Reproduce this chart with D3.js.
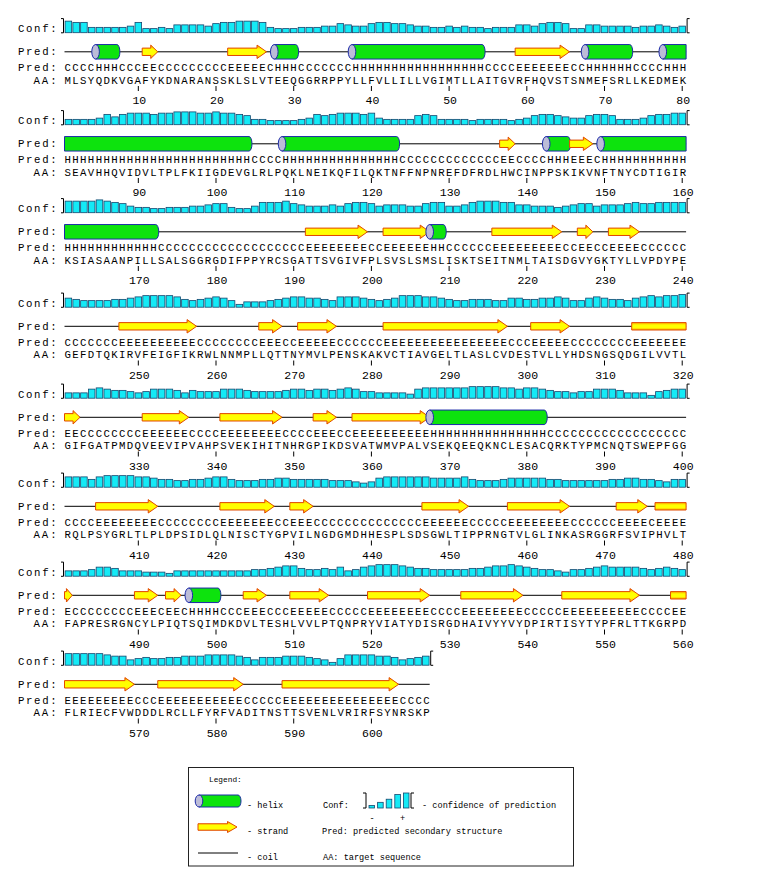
<!DOCTYPE html>
<html><head><meta charset="utf-8">
<script src="https://cdn.jsdelivr.net/npm/d3@7"></script>
<style>body{margin:0;background:#fff} svg{display:block}</style>
</head><body>
<svg id="c" width="775" height="895"></svg>
<script>
// ---------------- data ----------------
const aaBlocks = [
"MLSYQDKVGAFYKDNARANSSKLSLVTEEQGGRRPPYLLFVLLILLVGIMTLLAITGVRFHQVSTSNMEFSRLLKEDMEK",
"SEAVHHQVIDVLTPLFKIIGDEVGLRLPQKLNEIKQFILQKTNFFNPNREFDFRDLHWCINPPSKIKVNFTNYCDTIGIR",
"KSIASAANPILLSALSGGRGDIFPPYRCSGATTSVGIVFPLSVSLSMSLISKTSEITNMLTAISDGVYGKTYLLVPDYPE",
"GEFDTQKIRVFEIGFIKRWLNNMPLLQTTNYMVLPENSKAKVCTIAVGELTLASLCVDESTVLLYHDSNGSQDGILVVTL",
"GIFGATPMDQVEEVIPVAHPSVEKIHITNHRGPIKDSVATWMVPALVSEKQEEQKNCLESACQRKTYPMCNQTSWEPFGG",
"RQLPSYGRLTLPLDPSIDLQLNISCTYGPVILNGDGMDHHESPLSDSGWLTIPPRNGTVLGLINKASRGGRFSVIPHVLT",
"FAPRESRGNCYLPIQTSQIMDKDVLTESHLVVLPTQNPRYVIATYDISRGDHAIVYYVYDPIRTISYTYPFRLTTKGRPD",
"FLRIECFVWDDDLRCLLFYRFVADITNSTTSVENLVRIRFSYNRSKP"
];
// secondary structure as runs (type + length)
const predRuns = [
"C4 H3 C3 E2 C9 E5 C1 H3 C7 H17 C4 E7 C2 H6 C4 H3",
"H24 C4 H15 C13 E2 C4 H3 E3 C1 H11",
"H12 C19 E8 C2 E6 H2 C6 E9 C2 E2 C2 E4 C6",
"C7 E10 C8 E3 C2 E5 C6 E16 C3 E5 C8 E7",
"E2 C8 E6 C4 E8 C4 E3 C2 E10 H15 C18",
"C4 E8 C8 E7 C2 E3 C14 E6 C5 E8 C6 E4 C1 E4",
"E1 C8 E3 C1 E2 C1 H4 C3 E3 C3 E5 C5 E8 C4 E8 C5 E10 C4 E2",
"E9 C3 E11 C5 E15 C4"
];
// confidence digits 0-9 per residue
const confBlocks = [
"877 333334 7 2232 55554 6 778887 3 22233344 65446 77665 4433434 332333 5546776 22 554444 3445434",
"33334 75 78887889998898876 33222234 76788878 43333676 333323333234 6776 5446 7763 33467788",
"88889876 4332233344 566 3224 777865 44454 6776 4555446 77445 788877 55444345 6645 5567 667777",
"65 4444556 788887 545 676 413334 5677665 4 77765 456 8887765 4455544 6655 6676 44676 5546787889",
"3336 7655 43466 653 5444 666544 4456 65665 676 4433332 677777788887767 765443 446665 33314566",
"7775 78888776 554455 6775 44455665 5555444323 677777766667 5444 56666655 44444455 66554355",
"3334 665 3332221 33333333334 45677 5445463 467 8887655 44444 55677876 5443 2445 6766665 45654",
"88888766 3454455666 777765 35556665 4314 7777665 3456"
];
const tickEvery = 10;
const perLine = 80;

// ---------------- layout ----------------
const FONT = "'Liberation Mono','Courier New',monospace";
const FS = 10.7;
const CW = 7.77;
const svg = d3.select("#c");
svg.append("rect").attr("width",775).attr("height",895).attr("fill","#fff");

const defs = svg.append("defs");
const grad = defs.append("linearGradient").attr("id","strandGrad")
  .attr("x1",0).attr("y1",0).attr("x2",0).attr("y2",1);
[[0,"#ffa200"],[0.32,"#ffff00"],[0.68,"#ffff00"],[1,"#ffa200"]].forEach(([o,c])=>
  grad.append("stop").attr("offset",o).attr("stop-color",c));

const x = d3.scaleLinear().domain([0, perLine]).range([64.5, 64.5 + perLine*CW]);
const rowY = d3.scaleOrdinal().domain(d3.range(8)).range([28,120,208,302.5,393.5,482.5,571.5,660.5]);
const confH = d3.scaleLinear().domain([0,9]).range([1.6,12.8]);

const parseRuns = s => s.trim().split(/\s+/).map(t => ({type:t[0], len:+t.slice(1)}));
const runs = predRuns.map(parseRuns);
const predStrings = runs.map(r => r.map(d => d.type.repeat(d.len)).join(""));
const confVals = confBlocks.map(s => s.replace(/\s+/g,"").split("").map(Number));

const GY = 23.8;   // glyph centre offset
function drawHelix(g, xs, xe, cy, h, cap, round) {
  let p;
  if (round) {
    p = `M${xs},${cy-h/2}H${xe-2}A3,${h/2} 0 0 1 ${xe-2},${cy+h/2}H${xs}Z`;
  } else {
    p = `M${xs},${cy-h/2}H${xe}V${cy+h/2}H${xs}Z`;
  }
  g.append("path").attr("d",p).attr("fill","#0de30d").attr("stroke","#1c2aa8").attr("stroke-width",1);
  if (cap) g.append("ellipse").attr("cx",xs).attr("cy",cy).attr("rx",3.8).attr("ry",h/2)
    .attr("fill","#bcbcd8").attr("stroke","#1c2aa8").attr("stroke-width",1);
}
function drawStrand(g, xs, xe, cy, bh, hh, head) {
  const w = xe - xs;
  let p;
  if (head) {
    const hl = w <= 8.5 ? w*0.75 : Math.min(9.5, w*0.45);
    p = `M${xs},${cy-bh/2}H${xe-hl}V${cy-hh/2}L${xe},${cy}L${xe-hl},${cy+hh/2}V${cy+bh/2}H${xs}Z`;
  } else {
    p = `M${xs},${cy-bh/2}H${xe}V${cy+bh/2}H${xs}Z`;
  }
  g.append("path").attr("d",p).attr("fill","url(#strandGrad)").attr("stroke","#e24a00").attr("stroke-width",1);
}

aaBlocks.forEach((aa, i) => {
  const n = aa.length;
  const start = i*perLine;
  const g = svg.append("g").attr("transform",`translate(0,${rowY(i)})`);
  const lab = (t, y) => g.append("text").attr("x", x(0) - CW).attr("y", y).attr("text-anchor","end")
      .attr("font-family",FONT).attr("font-size",FS).attr("fill","#000")
      .attr("textLength", t.length*CW).attr("lengthAdjust","spacing").text(t);
  lab("Conf:", 4.0); lab("Pred:", GY + 3.2); lab("Pred:", 43.3); lab("AA:", 55.5);

  // confidence bars
  const conf = confVals[i];
  g.selectAll("rect.cb").data(conf).join("rect").attr("class","cb")
    .attr("x",(d,k)=>x(k)+0.6).attr("width",CW-1.2)
    .attr("y",d=>4.7-confH(d)).attr("height",d=>confH(d))
    .attr("fill","#14eaf6").attr("stroke","#14466e").attr("stroke-width",0.8);
  // brackets
  const bt=-9.4, bb=4.8, xl=x(0)-1, xr=x(n)+1;
  g.append("path").attr("d",`M${xl-2.5},${bt}H${xl}V${bb}H${xl-2.5}`).attr("fill","none").attr("stroke","#000").attr("stroke-width",1);
  g.append("path").attr("d",`M${xr+2.5},${bt}H${xr}V${bb}H${xr+2.5}`).attr("fill","none").attr("stroke","#000").attr("stroke-width",1);

  // coil line
  g.append("line").attr("x1",x(0)).attr("x2",x(n)).attr("y1",GY).attr("y2",GY)
    .attr("stroke","#000").attr("stroke-width",1);

  // segments
  let pos = 0;
  const prevLast = i>0 ? predStrings[i-1].slice(-1) : null;
  const nextFirst = i<aaBlocks.length-1 ? predStrings[i+1][0] : null;
  runs[i].forEach(r => {
    const s = pos, e = pos + r.len; pos = e;
    const contPrev = s===0 && r.type===prevLast;
    const contNext = e===n && r.type===nextFirst;
    if (r.type==="H") drawHelix(g, x(s), x(e), GY, 14.5, !contPrev, !contNext);
    else if (r.type==="E") drawStrand(g, x(s), x(e), GY, 7.4, 13.4, !contNext);
  });

  // texts
  const seqText = (t, y) => g.append("text").attr("x",x(0)).attr("y",y)
      .attr("font-family",FONT).attr("font-size",FS).attr("fill","#000")
      .attr("textLength", t.length*CW).attr("lengthAdjust","spacing").text(t);
  seqText(predStrings[i], 43.3);
  seqText(aa, 55.5);

  // ticks
  const ticks = d3.range(tickEvery, n+1, tickEvery);
  g.selectAll("line.tk").data(ticks).join("line").attr("class","tk")
    .attr("x1",k=>x(k-0.5)).attr("x2",k=>x(k-0.5)).attr("y1",58).attr("y2",63)
    .attr("stroke","#000").attr("stroke-width",1);
  g.selectAll("text.tl").data(ticks).join("text").attr("class","tl")
    .attr("x",k=>x(k-0.5)+1).attr("y",76).attr("text-anchor","middle")
    .attr("font-family",FONT).attr("font-size",11.5).attr("fill","#000")
    .text(k=>start+k);
});

// ---------------- legend ----------------
const L = svg.append("g");
L.append("rect").attr("x",188.5).attr("y",767.5).attr("width",385).attr("height",98.5)
  .attr("fill","#fff").attr("stroke","#222").attr("stroke-width",1);
const lt = (t, xx, yy, fs=8.6) => L.append("text").attr("x",xx).attr("y",yy)
  .attr("font-family",FONT).attr("font-size",fs).attr("fill","#000").text(t);
lt("Legend:", 209, 782, 7.8);
drawHelix(L, 199, 240, 801, 12, true, true);
lt("- helix", 247, 808);
lt("Conf:", 323, 808);
const legConf = [1,3,5,8,9];
const legX = d3.scaleBand().domain(d3.range(legConf.length)).range([369,409]).paddingInner(0.35);
const legH = d3.scaleLinear().domain([0,9]).range([1,15]);
L.selectAll("rect.lc").data(legConf).join("rect").attr("class","lc")
  .attr("x",(d,k)=>legX(k)).attr("width",legX.bandwidth())
  .attr("y",d=>808-legH(d)).attr("height",d=>legH(d))
  .attr("fill","#14eaf6").attr("stroke","#14466e").attr("stroke-width",0.8);
L.append("path").attr("d","M363,793H366V808H363").attr("fill","none").attr("stroke","#000");
L.append("path").attr("d","M414,793H411V808H414").attr("fill","none").attr("stroke","#000");
lt("- confidence of prediction", 422, 808);
lt("-", 369.5, 821); lt("+", 400, 821);
drawStrand(L, 198, 237, 827, 6.5, 11, true);
lt("- strand", 247, 834);
lt("Pred: predicted secondary structure", 322, 834);
L.append("line").attr("x1",198).attr("x2",238).attr("y1",853).attr("y2",853).attr("stroke","#000");
lt("- coil", 247, 860);
lt("AA: target sequence", 323, 860);
</script>
</body></html>
